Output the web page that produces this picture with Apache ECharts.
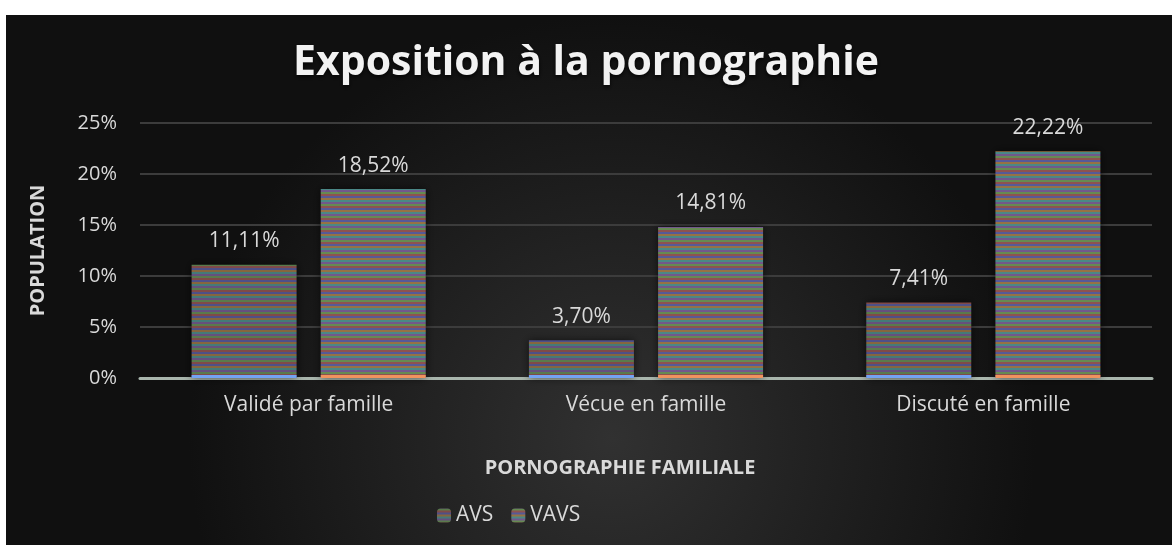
<!DOCTYPE html>
<html>
<head>
<meta charset="utf-8">
<script src="https://cdn.jsdelivr.net/npm/echarts@6/dist/echarts.min.js"></script>
<style>
  html, body { margin: 0; padding: 0; background: #fff; }
  #main { width: 1172px; height: 545px; }
</style>
</head>
<body>
<div id="main"></div>
<script>
var categories = ['Validé par famille', 'Vécue en famille', 'Discuté en famille'];
var avs = [11.11, 3.70, 7.41];
var vavs = [18.52, 14.81, 22.22];
var yTicks = [0, 5, 10, 15, 20, 25];

// striped fill like the original picture
function stripes(colors) {
    var c = document.createElement('canvas');
    c.width = 4;
    c.height = colors.length * 2;
    var ctx = c.getContext('2d');
    colors.forEach(function (col, i) {
        ctx.fillStyle = col;
        ctx.fillRect(0, i * 2, 4, 2);
    });
    return { image: c, repeat: 'repeat' };
}
var avsFill = stripes(['#5a7a4c', '#804a48', '#4e5088', '#86663e', '#447a78', '#66507e']);
var vavsFill = stripes(['#668a52', '#8e5250', '#565a98', '#967244', '#4a8886', '#72588c']);

var labelFmt = function (p) { return p.value.toFixed(2).replace('.', ',') + '%'; };

var chart = echarts.init(document.getElementById('main'));

var option = {
    backgroundColor: '#fff',
    graphic: [{
        type: 'rect',
        z: -10,
        shape: { x: 6, y: 15, width: 1166, height: 530 },
        style: {
            fill: new echarts.graphic.RadialGradient(0.52, 0.8, 0.8, [
                { offset: 0, color: '#313131' },
                { offset: 1, color: '#101010' }
            ])
        }
    }],
    title: {
        text: 'Exposition à la pornographie',
        left: 'center',
        top: 38,
        textStyle: {
            fontFamily: 'Open Sans',
            fontWeight: 'bold',
            fontSize: 41,
            color: '#f2f2f2',
            textShadowColor: 'rgba(0,0,0,0.8)',
            textShadowBlur: 4,
            textShadowOffsetY: 2
        }
    },
    legend: {
        bottom: 14,
        left: 432,
        itemWidth: 14,
        itemHeight: 14,
        itemGap: 18,
        textStyle: { color: '#d9d9d9', fontSize: 21, fontFamily: 'Open Sans' },
        data: ['AVS', 'VAVS']
    },
    grid: { left: 140, right: 20, top: 123, bottom: 167 },
    xAxis: [{
        type: 'category',
        data: categories,
        name: 'PORNOGRAPHIE FAMILIALE',
        nameLocation: 'middle',
        nameGap: 80,
        nameTextStyle: {
            color: '#d9d9d9', fontSize: 20, fontWeight: 'bold', fontFamily: 'Open Sans',
            padding: [0, 52, 0, 0]
        },
        axisTick: { show: false },
        axisLine: { lineStyle: { color: '#a9b6ad', width: 3 } },
        axisLabel: { color: '#d9d9d9', fontSize: 21, margin: 17, fontFamily: 'Open Sans' }
    }, {
        type: 'category',
        data: categories,
        show: false
    }],
    yAxis: {
        type: 'value',
        min: yTicks[0],
        max: yTicks[yTicks.length - 1],
        interval: 5,
        name: 'POPULATION',
        nameLocation: 'middle',
        nameGap: 92,
        nameTextStyle: { color: '#d9d9d9', fontSize: 20, fontWeight: 'bold', fontFamily: 'Open Sans' },
        axisLine: { show: false },
        axisTick: { show: false },
        axisLabel: { color: '#d9d9d9', fontSize: 20, margin: 23, fontFamily: 'Open Sans', formatter: '{value}%' },
        splitLine: { lineStyle: { color: '#3c3c3c', width: 2 } }
    },
    series: [{
        name: 'AVS',
        type: 'bar',
        data: avs,
        barWidth: 105,
        barGap: '23%',
        itemStyle: { color: avsFill, shadowColor: 'rgba(0,0,0,0.6)', shadowBlur: 8 },
        label: {
            show: true,
            position: 'top',
            distance: 13,
            color: '#d9d9d9',
            fontSize: 21,
            fontFamily: 'Open Sans',
            formatter: labelFmt
        }
    }, {
        name: 'VAVS',
        type: 'bar',
        data: vavs,
        barWidth: 105,
        itemStyle: { color: vavsFill, shadowColor: 'rgba(0,0,0,0.6)', shadowBlur: 8 },
        label: {
            show: true,
            position: 'top',
            distance: 13,
            color: '#d9d9d9',
            fontSize: 21,
            fontFamily: 'Open Sans',
            formatter: labelFmt
        }
    }, {
        // thin coloured base strips under the bars
        type: 'bar',
        xAxisIndex: 1,
        data: avs.map(function () { return 0.3; }),
        barWidth: 105,
        barGap: '23%',
        silent: true,
        itemStyle: { color: '#74a3f2' },
        z: 3
    }, {
        type: 'bar',
        xAxisIndex: 1,
        data: vavs.map(function () { return 0.3; }),
        barWidth: 105,
        silent: true,
        itemStyle: { color: '#f0935e' },
        z: 3
    }]
};

chart.setOption(option);

window.onresize = chart.resize;
</script>
</body>
</html>
